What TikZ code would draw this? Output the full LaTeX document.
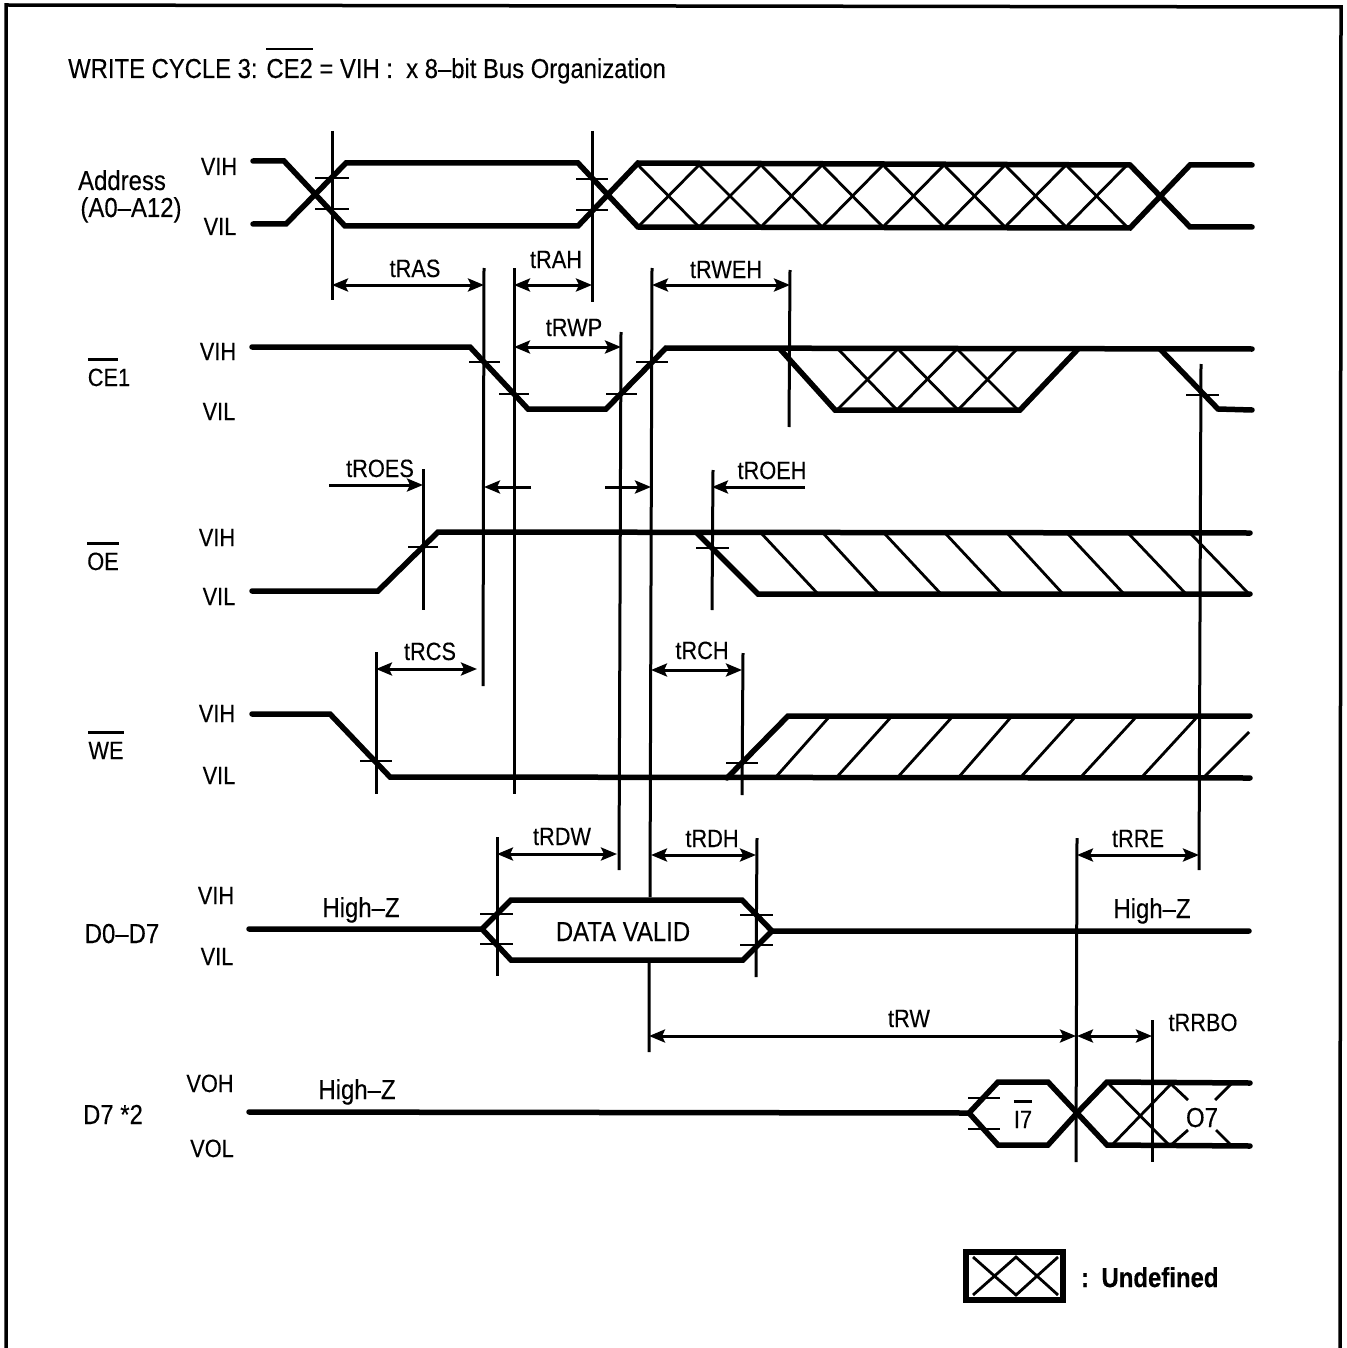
\documentclass[tikz,border=0pt]{standalone}
\usepackage{fontspec}
\setmainfont{Liberation Sans}[FakeStretch=0.87,FakeBold=0.25,BoldFeatures={FakeBold=0.4}]
\usetikzlibrary{arrows.meta}
\newlength\ovl
\newcommand\ovb[1]{\settowidth{\ovl}{#1}\rlap{\rule[1.02em]{\ovl}{2.2pt}}#1}
\tikzset{
  x=1pt,y=-1pt,
  sig/.style={line width=5.5pt,line cap=round,line join=miter,black},
  hatch/.style={line width=2.8pt,black},
  vline/.style={line width=3pt,black},
  tick/.style={line width=2.8pt,black},
  dim/.style={line width=3pt,black,{Stealth[length=16pt,width=13pt,inset=3pt]}-{Stealth[length=16pt,width=13pt,inset=3pt]}},
  dimr/.style={line width=3pt,black,-{Stealth[length=16pt,width=13pt,inset=3pt]}},
  txt/.style={anchor=base,yshift=-9pt,inner sep=0pt,font=\fontsize{25}{28}\selectfont,black},
  txtb/.style={txt,font=\fontsize{27.5}{30}\selectfont}
}
\begin{document}
\begin{tikzpicture}
\useasboundingbox (0,0) rectangle (1346,1348);
\fill[white] (0,0) rectangle (1346,1348);
% frame
\draw[line width=3.5pt] (6,1348) -- (6,5) -- (1341,7) -- (1340,1348);
% title
\node[txt,font=\fontsize{27.4}{30}\selectfont,anchor=base west,yshift=9pt] (title) at (68,78) {WRITE CYCLE 3: \ovb{CE2} = VIH :\ \ x 8–bit Bus Organization};
% Address
\draw[sig] (253,161) -- (284,161) -- (345,226) -- (578,226) -- (638,163) -- (1130,165) -- (1190,227) -- (1252,227);
\draw[sig] (253,224) -- (286,224) -- (346,163) -- (578,163) -- (638,227) -- (1130,228) -- (1190,165) -- (1252,165);
\draw[hatch] (638,165) -- (699,227) -- (761,165) -- (822,227) -- (883,165) -- (944,227) -- (1005,165) -- (1066,227) -- (1127,165);
\draw[hatch] (638,227) -- (699,165) -- (761,227) -- (822,165) -- (883,227) -- (944,165) -- (1005,227) -- (1066,165) -- (1127,227);
\draw[tick] (315,178) -- (349,178) (315,209) -- (349,209) (576,179) -- (608,179) (576,210) -- (608,210);
% CE1
\draw[sig] (252,347) -- (470,347) -- (528,409) -- (606,409) -- (666,348) -- (1252,349);
\draw[sig] (780,349) -- (835,410) -- (1020,410) -- (1078,349);
\draw[sig] (1160,349) -- (1218,409) -- (1252,410);
\draw[hatch] (838,349) -- (897,410) -- (957,349) -- (1018,410);
\draw[hatch] (837,410) -- (898,349) -- (958,410) -- (1017,349);
\draw[tick] (469,362) -- (500,362) (499,394) -- (529,394) (606,394) -- (637,394) (636,362) -- (668,362) (1186,395) -- (1219,395);
% OE
\draw[sig] (252,591) -- (378,591) -- (438,532) -- (1250,533);
\draw[sig] (697,533) -- (758,594) -- (1250,594);
\draw[hatch] (761,533) -- (818,594) (823,533) -- (879,594) (884,533) -- (941,594) (945,533) -- (1002,594) (1007,533) -- (1063,594) (1067,533) -- (1124,594) (1128,533) -- (1186,594) (1190,533) -- (1249,594);
\draw[tick] (408,547) -- (438,547) (696,548) -- (729,548);
% WE
\draw[sig] (252,714) -- (330,714) -- (390,777) -- (1250,778);
\draw[sig] (727,778) -- (788,716) -- (1250,716);
\draw[hatch] (775,778) -- (830,716) (836,778) -- (892,716) (897,778) -- (953,716) (958,778) -- (1012,716) (1020,778) -- (1076,716) (1080,778) -- (1137,716) (1141,778) -- (1198,716) (1203,778) -- (1249,732);
\draw[tick] (360,761) -- (392,761) (726,763) -- (758,763);
% D0-D7
\draw[sig] (249,929) -- (482,929) -- (511,900) -- (742,900) -- (772,931) -- (1249,931);
\draw[sig] (482,929) -- (511,960) -- (743,960) -- (772,931);
\draw[tick] (480,914) -- (513,914) (480,944) -- (513,944) (740,915) -- (773,915) (740,945) -- (773,945);
% D7
\draw[sig] (249,1112) -- (969,1113) -- (998,1082) -- (1048,1082) -- (1077,1113) -- (1107,1082) -- (1250,1083);
\draw[sig] (969,1113) -- (998,1145) -- (1048,1145) -- (1077,1113) -- (1107,1145) -- (1250,1146);
\draw[tick] (968,1098) -- (1000,1098) (968,1129) -- (1000,1129);
\draw[hatch] (1109,1084) -- (1169,1145) (1112,1145) -- (1171,1084) -- (1188,1100) (1231,1084) -- (1215,1100) (1171,1145) -- (1188,1130) (1231,1145) -- (1216,1130);
% vertical guide lines
\draw[vline] (332,131) -- (332,300);
\draw[vline] (592,131) -- (592,302);
\draw[vline] (484,268) -- (483,686);
\draw[vline] (514,268) -- (514,794);
\draw[vline] (621,332) -- (619,870);
\draw[vline] (652,268) -- (650,897) (649,962) -- (649,1052);
\draw[vline] (790,270) -- (789,427);
\draw[vline] (1201,364) -- (1199,870);
\draw[vline] (423,469) -- (423,610);
\draw[vline] (713,470) -- (712,610);
\draw[vline] (376,652) -- (376,794);
\draw[vline] (743,653) -- (742,795);
\draw[vline] (497,837) -- (497,976);
\draw[vline] (757,838) -- (756,977);
\draw[vline] (1077,838) -- (1076,1162);
\draw[vline] (1152,1020) -- (1152,1162);
% dimension arrows
\draw[dim] (332,285) -- (484,285);
\draw[dim] (514,285) -- (592,285);
\draw[dim] (652,285) -- (790,285);
\draw[dim] (514,347) -- (621,347);
\draw[dimr] (329,485) -- (423,485);
\draw[dimr] (531,487) -- (484,487);
\draw[dimr] (605,487) -- (651,487);
\draw[dimr] (805,487) -- (712,487);
\draw[dim] (376,669) -- (477,669);
\draw[dim] (651,670) -- (742,670);
\draw[dim] (497,854) -- (617,854);
\draw[dim] (651,855) -- (756,855);
\draw[dim] (1077,855) -- (1199,855);
\draw[dim] (649,1036) -- (1076,1036);
\draw[dim] (1077,1036) -- (1152,1036);
% legend
\draw[line width=6pt] (966,1252) rectangle (1063,1300);
\draw[hatch] (973,1257) -- (1016,1295) -- (1058,1257) (973,1295) -- (1016,1257) -- (1058,1295);
% labels
\node[txt] (a1) at (219,166) {VIH};
\node[txt] (a2) at (220,226) {VIL};
\node[txt] (a3) at (122,181) {\fontsize{27.5}{30}\selectfont Address};
\node[txt] (a4) at (131,208) {\fontsize{27.5}{30}\selectfont (A0–A12)};
\node[txt] (b1) at (218,351) {VIH};
\node[txt] (b2) at (219,411) {VIL};
\node[txt] (b3) at (109,377) {\ovb{CE}1};
\node[txt] (c1) at (217,537) {VIH};
\node[txt] (c2) at (219,596) {VIL};
\node[txt] (c3) at (103,561) {\ovb{OE}};
\node[txt] (d1) at (217,713) {VIH};
\node[txt] (d2) at (219,775) {VIL};
\node[txt] (d3) at (106,750) {\ovb{WE}};
\node[txt] (e1) at (216,895) {VIH};
\node[txt] (e2) at (217,956) {VIL};
\node[txtb] (e3) at (122,934) {D0–D7};
\node[txt] (f1) at (210,1083) {VOH};
\node[txt] (f2) at (212,1148) {VOL};
\node[txtb] (f3) at (113,1115) {D7 *2};
\node[txtb] (hz1) at (361,908) {High–Z};
\node[txtb] (hz2) at (1152,909) {High–Z};
\node[txtb] (hz3) at (357,1090) {High–Z};
\node[txtb] (dv) at (623,932) {DATA VALID};
\node[txt] (i7) at (1023,1119) {\ovb{I7}};
\node[txtb] (o7) at (1202,1118) {O7};
\node[txt] (t1) at (415,268) {tRAS};
\node[txt] (t2) at (556,259) {tRAH};
\node[txt] (t3) at (726,269) {tRWEH};
\node[txt] (t4) at (574,327) {tRWP};
\node[txt] (t5) at (380,468) {tROES};
\node[txt] (t6) at (772,470) {tROEH};
\node[txt] (t7) at (430,651) {tRCS};
\node[txt] (t8) at (702,650) {tRCH};
\node[txt] (t9) at (562,836) {tRDW};
\node[txt] (t10) at (712,838) {tRDH};
\node[txt] (t11) at (1138,838) {tRRE};
\node[txt] (t12) at (909,1018) {tRW};
\node[txt] (t13) at (1203,1022) {tRRBO};
\node[txtb,font=\fontsize{27.5}{30}\selectfont\bfseries] (u1) at (1085,1278) {:};
\node[txtb,font=\fontsize{27.5}{30}\selectfont\bfseries] (u2) at (1160,1278) {Undefined};
\end{tikzpicture}
\end{document}
